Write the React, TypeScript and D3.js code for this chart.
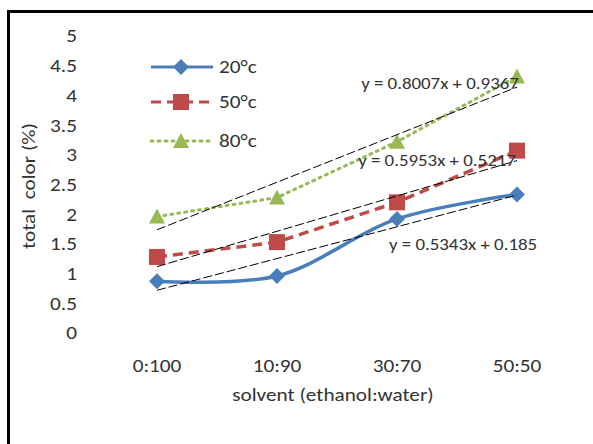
import React from "react";
import * as d3 from "d3";

const categories = ["0:100", "10:90", "30:70", "50:50"];
const seriesNames = ["20°c", "50°c", "80°c"];
const values20 = [0.87, 0.96, 1.92, 2.33];
const values50 = [1.28, 1.53, 2.2, 3.07];
const values80 = [1.96, 2.28, 3.22, 4.32];
const slopes = [0.5343, 0.5953, 0.8007];
const intercepts = [0.185, 0.5217, 0.9367];
const equations = ["y = 0.5343x + 0.185", "y = 0.5953x + 0.5217", "y = 0.8007x + 0.9367"];
const yTicks = [0, 0.5, 1, 1.5, 2, 2.5, 3, 3.5, 4, 4.5, 5];

const colors = ["#4a7ebb", "#be4b48", "#98b954"];
const font = "Carlito, Calibri, 'Liberation Sans', Arial, sans-serif";
const SX = 1.18;

function Txt(props: { x: number; y: number; size: number; anchor?: string; rot?: number; children: React.ReactNode }) {
  const { x, y, size, anchor = "start", rot = 0, children } = props;
  const t = rot ? `translate(${x},${y}) rotate(${rot}) scale(${SX},1)` : `translate(${x},${y}) scale(${SX},1)`;
  return (
    <text transform={t} textAnchor={anchor} dominantBaseline="central" fontSize={size} fill="#333" style={{ whiteSpace: "pre" }}>{children}</text>
  );
}

export default function App() {
  const W = 593, H = 444;
  const x = d3.scalePoint<string>().domain(categories).range([157, 517]);
  const y = d3.scaleLinear().domain([0, 5]).range([333, 36]);
  const series = [values20, values50, values80];
  const xi = d3.scaleLinear().domain([1, 4]).range([157, 517]);

  const smooth = d3.line<number>().x((_, i) => x(categories[i])!).y(d => y(d)).curve(d3.curveCatmullRom.alpha(0.5));
  const straight = d3.line<number>().x((_, i) => x(categories[i])!).y(d => y(d));

  const dashes = [null, "10,6", "2,5"];
  const eqPos = [
    { x: 463, y: 245 },
    { x: 437, y: 161 },
    { x: 440, y: 84 },
  ];
  const legendY = [67, 102, 141];

  const marker = (k: number, cx: number, cy: number, key: string) => {
    if (k === 0) {
      return <path key={key} d={`M${cx - 8},${cy} L${cx},${cy - 8} L${cx + 8},${cy} L${cx},${cy + 8} Z`} fill={colors[0]} />;
    }
    if (k === 1) {
      return <rect key={key} x={cx - 8} y={cy - 8} width={16} height={16} fill={colors[1]} />;
    }
    return <path key={key} d={`M${cx - 8},${cy + 7} L${cx},${cy - 8} L${cx + 8},${cy + 7} Z`} fill={colors[2]} />;
  };

  return (
    <svg width={W} height={H} style={{ position: "absolute", left: 0, top: 0, background: "#fff" }} fontFamily={font}>
      <rect x={0} y={0} width={W} height={H} fill="#fff" />
      <rect x={8.5} y={11.5} width={W + 20} height={H + 20} fill="none" stroke="#000" strokeWidth={3} />
      {yTicks.map(t => (
        <Txt key={t} x={77} y={y(t)} size={18} anchor="end">{t}</Txt>
      ))}
      {categories.map(c => (
        <Txt key={c} x={x(c)!} y={366} size={18} anchor="middle">{c}</Txt>
      ))}
      <Txt x={333} y={395} size={18} anchor="middle">solvent (ethanol:water)</Txt>
      <Txt x={29} y={186} size={18} anchor="middle" rot={-90}>total  color (%)</Txt>

      {series.map((s, k) => (
        <path key={"l" + k} d={(k === 0 ? smooth : straight)(s) || ""} fill="none" stroke={colors[k]} strokeWidth={k === 2 ? 3 : 3.5} strokeDasharray={dashes[k] || undefined} strokeLinecap={k === 2 ? "round" : "butt"} />
      ))}
      {series.map((s, k) => s.map((v, i) => marker(k, x(categories[i])!, y(v), `m${k}-${i}`)))}

      {slopes.map((m, k) => (
        <line key={"t" + k} x1={xi(1)} y1={y(m * 1 + intercepts[k])} x2={xi(4)} y2={y(m * 4 + intercepts[k])} stroke="#000" strokeWidth={1} strokeDasharray="9,3" />
      ))}
      {equations.map((e, k) => (
        <Txt key={"e" + k} x={eqPos[k].x} y={eqPos[k].y} size={16} anchor="middle">{e}</Txt>
      ))}

      {seriesNames.map((n, k) => (
        <g key={"lg" + k}>
          <line x1={151} x2={213} y1={legendY[k]} y2={legendY[k]} stroke={colors[k]} strokeWidth={3} strokeDasharray={dashes[k] || undefined} strokeLinecap={k === 2 ? "round" : "butt"} />
          {marker(k, 181, legendY[k], "lm" + k)}
          <Txt x={219} y={legendY[k]} size={18}>{n}</Txt>
        </g>
      ))}
    </svg>
  );
}
